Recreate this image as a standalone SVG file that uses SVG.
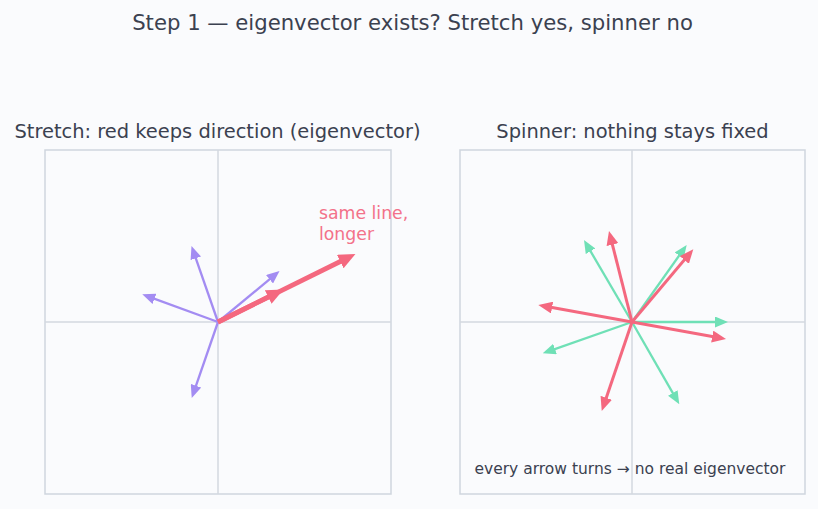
<svg xmlns="http://www.w3.org/2000/svg" width="818" height="509" viewBox="0 0 818 509">
<style>
text{font-family:"DejaVu Sans","Liberation Sans",sans-serif;fill:#3b4150}
.title{font-size:21.2px;text-anchor:middle}
.sub{font-size:19.45px;text-anchor:middle}
.note{font-size:15.5px}
.lbl{font-size:17.3px;fill:#f3728a}
.frame{fill:#fafbfd;stroke:#cfd6de;stroke-width:1.5}
.axis{stroke:#d3d9df;stroke-width:1.5}
.pur{stroke:#a38cf2;stroke-width:2.3;fill:none;marker-end:url(#hp)}
.grn{stroke:#6fe0b6;stroke-width:2.3;fill:none;marker-end:url(#hg)}
.redr{stroke:#f4687f;stroke-width:3;fill:none;marker-end:url(#hr)}
.redl{stroke:#f4687f;stroke-width:4.8;fill:none;marker-end:url(#hrl)}
</style>
<defs>
<marker id="hp" markerUnits="userSpaceOnUse" markerWidth="13" markerHeight="11" viewBox="0 0 13 11" refX="7" refY="5.5" orient="auto"><path d="M0,0L13,5.5L0,11z" fill="#a38cf2"/></marker>
<marker id="hg" markerUnits="userSpaceOnUse" markerWidth="13" markerHeight="11" viewBox="0 0 13 11" refX="7" refY="5.5" orient="auto"><path d="M0,0L13,5.5L0,11z" fill="#6fe0b6"/></marker>
<marker id="hr" markerUnits="userSpaceOnUse" markerWidth="14" markerHeight="12" viewBox="0 0 14 12" refX="7" refY="6" orient="auto"><path d="M0,0L14,6L0,12z" fill="#f4687f"/></marker>
<marker id="hrl" markerUnits="userSpaceOnUse" markerWidth="17" markerHeight="15" viewBox="0 0 17 15" refX="8" refY="7.5" orient="auto"><path d="M0,0L17,7.5L0,15z" fill="#f4687f"/></marker>
</defs>
<rect width="818" height="509" fill="#fafbfd"/>
<text class="title" x="412.5" y="30">Step 1 — eigenvector exists? Stretch yes, spinner no</text>

<g id="stretch-panel">
<text class="sub" x="217.5" y="138">Stretch: red keeps direction (eigenvector)</text>
<rect class="frame" x="45" y="150" width="346" height="344"/>
<line class="axis" x1="218" y1="150" x2="218" y2="494"/>
<line class="axis" x1="45" y1="322" x2="391" y2="322"/>
<text class="lbl" x="319" y="219">same line,</text>
<text class="lbl" x="319" y="239.5">longer</text>
</g>

<g id="spinner-panel">
<text class="sub" x="632.5" y="138">Spinner: nothing stays fixed</text>
<rect class="frame" x="460" y="150" width="345" height="344"/>
<line class="axis" x1="632" y1="150" x2="632" y2="494"/>
<line class="axis" x1="460" y1="322" x2="805" y2="322"/>
<text class="note" x="474.5" y="474">every arrow turns → no real eigenvector</text>
</g>

<g id="connectors">
<line class="pur" x1="218" y1="322" x2="193.5" y2="251.7"/>
<line class="pur" x1="218" y1="322" x2="147.9" y2="296.4"/>
<line class="pur" x1="218" y1="322" x2="193.7" y2="392.3"/>
<line class="pur" x1="218" y1="322" x2="274.9" y2="274.8"/>
<line class="redl" x1="218" y1="322" x2="347.4" y2="258"/>
<line class="redl" x1="218" y1="322" x2="275.4" y2="293.5"/>

<line class="grn" x1="632" y1="322" x2="722" y2="322"/>
<line class="grn" x1="632" y1="322" x2="683.2" y2="249.9"/>
<line class="grn" x1="632" y1="322" x2="587" y2="245.2"/>
<line class="grn" x1="632" y1="322" x2="548.4" y2="351.3"/>
<line class="grn" x1="632" y1="322" x2="676.3" y2="399.1"/>
<line class="redr" x1="632" y1="322" x2="610.7" y2="237.8"/>
<line class="redr" x1="632" y1="322" x2="688.8" y2="254.6"/>
<line class="redr" x1="632" y1="322" x2="545.2" y2="306.3"/>
<line class="redr" x1="632" y1="322" x2="719.1" y2="337.8"/>
<line class="redr" x1="632" y1="322" x2="604" y2="404.4"/>
</g>
</svg>
